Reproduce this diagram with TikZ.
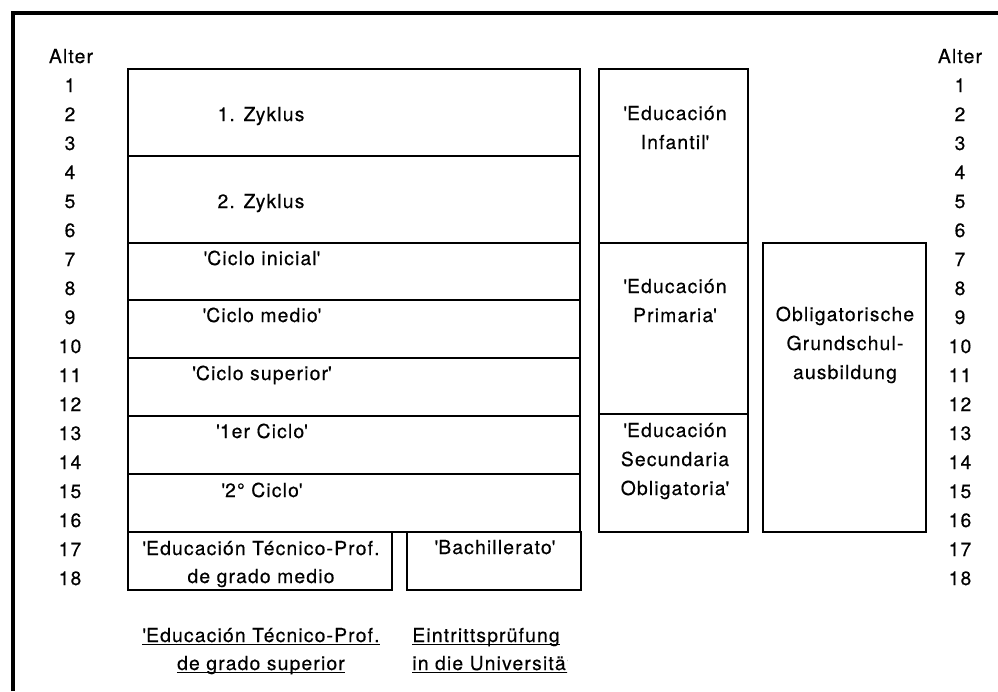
\documentclass[tikz,border=0pt]{standalone}
\usepackage{fontspec}
\setmainfont[LetterSpace=6, FakeBold=0.4]{TeX Gyre Heros}
\usepackage{tikz}
\newcommand{\q}{\textquotesingle}
\tikzstyle{box} = [draw, line width=1.5pt, inner sep=0pt, outer sep=0pt]
\tikzstyle{lbl} = [font=\fontsize{11}{16}\selectfont, anchor=base, inner sep=0pt]
\tikzstyle{lbll} = [lbl, anchor=base west]
\tikzstyle{uline} = [line width=0.9pt]

\begin{document}
\begin{tikzpicture}[x=0.02cm, y=-0.02cm]
    \useasboundingbox (0,0) rectangle (998,691);
    % frame
    \draw[line width=2pt] (13,691) -- (13,13) -- (998,13);

    % ages
    \node[lbl] (alterl) at (71,63) {Alter};
    \node[lbl] (alterr) at (960,63) {Alter};
    \foreach \a in {1,...,18} {
        \node[lbl] (agel\a) at (70,{63+29*\a}) {\a};
        \node[lbl] (ager\a) at (960,{63+29*\a}) {\a};
    }

    % left column
    \node[box, minimum width=9.04cm, minimum height=1.74cm] (zyk1) at (354,112.5) {};
    \node[lbl] (zyk1t) at (261,121) {1. Zyklus};
    \node[box, minimum width=9.04cm, minimum height=1.74cm] (zyk2) at (354,199.5) {};
    \node[lbl] (zyk2t) at (261,208) {2. Zyklus};
    \node[box, minimum width=9.04cm, minimum height=1.14cm] (cini) at (354,271.5) {};
    \node[lbl] (cinit) at (262,265) {\q Ciclo inicial\q};
    \node[box, minimum width=9.04cm, minimum height=1.16cm] (cmed) at (354,329) {};
    \node[lbl] (cmedt) at (262,322) {\q Ciclo medio\q};
    \node[box, minimum width=9.04cm, minimum height=1.16cm] (csup) at (354,387) {};
    \node[lbl] (csupt) at (262,380) {\q Ciclo superior\q};
    \node[box, minimum width=9.04cm, minimum height=1.16cm] (cer) at (354,445) {};
    \node[lbl] (cert) at (262,438) {\q 1er Ciclo\q};
    \node[box, minimum width=9.04cm, minimum height=1.16cm] (czwei) at (354,503) {};
    \node[lbl] (czweit) at (262,497) {\q 2° Ciclo\q};

    % 17-18
    \node[box, minimum width=5.28cm, minimum height=1.16cm] (etp) at (260,561) {};
    \node[lbl] (etp1) at (261,555) {\q Educación Técnico-Prof.};
    \node[lbl] (etp2) at (261,583) {de grado medio};
    \node[box, minimum width=3.48cm, minimum height=1.16cm] (bach) at (494,561) {};
    \node[lbl] (bacht) at (495,554) {\q Bachillerato\q};

    % middle column
    \node[box, minimum width=2.98cm, minimum height=3.48cm] (inf) at (673.5,156) {};
    \node[lbl] (inf1) at (675,120) {\q Educación};
    \node[lbl] (inf2) at (675,149) {Infantil\q};
    \node[box, minimum width=2.98cm, minimum height=3.42cm] (prim) at (673.5,328.5) {};
    \node[lbl] (prim1) at (675,293) {\q Educación};
    \node[lbl] (prim2) at (675,322) {Primaria\q};
    \node[box, minimum width=2.98cm, minimum height=2.36cm] (sec) at (673.5,473) {};
    \node[lbl] (sec1) at (675,437) {\q Educación};
    \node[lbl] (sec2) at (675,466) {Secundaria};
    \node[lbl] (sec3) at (675,495) {Obligatoria\q};

    % right column
    \node[box, minimum width=3.26cm, minimum height=5.78cm] (oblig) at (844.5,387.5) {};
    \node[lbl] (oblig1) at (845,321) {Obligatorische};
    \node[lbl] (oblig2) at (845,350) {Grundschul-};
    \node[lbl] (oblig3) at (845,379) {ausbildung};

    % below, underlined
    \node[lbl] (sup1) at (261,642) {\q Educación Técnico-Prof.};
    \node[lbl] (sup2) at (261,670) {de grado superior};
    \node[lbll] (uni1) at (412,642) {Eintrittsprüfung};
    \foreach \n in {sup1,sup2,uni1}
        \draw[uline] ([yshift=-1.3pt]\n.base west) -- ([yshift=-1.3pt]\n.base east);
    \begin{scope}
        \clip (400,650) rectangle (567,691);
        \node[lbll] (uni2) at (412,670) {in die Universität};
        \draw[uline] ([yshift=-1.3pt]uni2.base west) -- ([yshift=-1.3pt]uni2.base east);
    \end{scope}
\end{tikzpicture}
\end{document}
